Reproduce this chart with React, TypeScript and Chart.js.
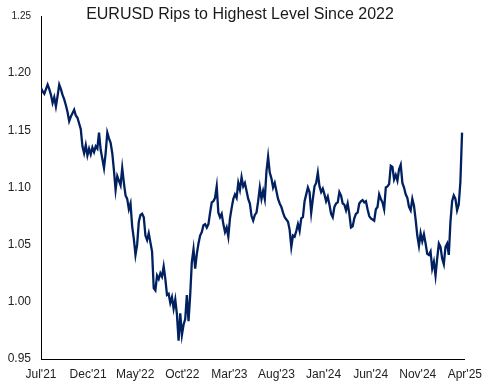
import React, { useEffect, useRef } from "react";
import { Chart, registerables } from "chart.js";

Chart.register(...registerables);

const TITLE = "EURUSD Rips to Highest Level Since 2022";
const xTickLabels = ["Jul'21", "Dec'21", "May'22", "Oct'22", "Mar'23", "Aug'23", "Jan'24", "Jun'24", "Nov'24", "Apr'25"];
const X_MIN_MONTHS = 0;
const X_MAX_MONTHS = 45;
const X_TICK_STEP_MONTHS = 5;
const Y_MIN = 0.95;
const Y_MAX = 1.25;
const Y_STEP = 0.05;
// sampling interval of the series, in months since Jul'21
const SAMPLE_STEP_MONTHS = 0.176;

const rate2021 = [
  1.187, 1.184, 1.182, 1.186, 1.190, 1.186, 1.181, 1.174, 1.179, 1.171,
  1.180, 1.190, 1.186, 1.181, 1.177, 1.172, 1.166, 1.158, 1.162, 1.165,
  1.168, 1.163, 1.161, 1.156, 1.151, 1.136, 1.130, 1.137, 1.128, 1.134,
  1.129, 1.135, 1.131, 1.136, 1.134,
];
const rate2022 = [
  1.148, 1.133, 1.125, 1.117, 1.130, 1.148, 1.143, 1.139, 1.130, 1.115,
  1.098, 1.110, 1.106, 1.102, 1.117, 1.104, 1.093, 1.090, 1.081, 1.086,
  1.066, 1.055, 1.041, 1.050, 1.070, 1.076, 1.077, 1.074, 1.058, 1.054,
  1.060, 1.052, 1.044, 1.012, 1.010, 1.023, 1.020, 1.025, 1.022, 1.031,
  1.020, 1.006, 1.007, 0.999, 1.004, 0.994, 1.002, 0.989, 0.966, 0.990,
  0.971, 0.980, 0.985, 1.006, 0.983, 1.006, 1.035, 1.046, 1.029, 1.042,
  1.051, 1.058, 1.061, 1.067, 1.068, 1.065, 1.068, 1.078,
];
const rate2023 = [
  1.087, 1.088, 1.091, 1.101, 1.078, 1.074, 1.077, 1.068, 1.061, 1.065,
  1.057, 1.073, 1.082, 1.090, 1.094, 1.091, 1.104, 1.098, 1.109, 1.101,
  1.104, 1.097, 1.090, 1.086, 1.075, 1.071, 1.076, 1.078, 1.088, 1.100,
  1.090, 1.097, 1.090, 1.114, 1.127, 1.113, 1.108, 1.100, 1.104, 1.097,
  1.090, 1.086, 1.083, 1.078, 1.074, 1.072, 1.070, 1.063, 1.048, 1.058,
  1.057, 1.062, 1.068, 1.062, 1.073, 1.074, 1.088, 1.094, 1.100, 1.096,
  1.078, 1.090, 1.101, 1.104, 1.113, 1.101, 1.096, 1.099,
];
const rate2024 = [
  1.094, 1.088, 1.092, 1.085, 1.077, 1.074, 1.083, 1.086, 1.087, 1.096,
  1.093, 1.086, 1.085, 1.080, 1.086, 1.077, 1.065, 1.066, 1.073, 1.077,
  1.078, 1.086, 1.088, 1.089, 1.087, 1.088, 1.081, 1.075, 1.073, 1.072,
  1.071, 1.081, 1.083, 1.094, 1.090, 1.087, 1.081, 1.100, 1.101, 1.103,
  1.119, 1.118, 1.107, 1.111, 1.106, 1.116, 1.120, 1.104, 1.100, 1.094,
  1.091, 1.083, 1.080, 1.090, 1.084, 1.072, 1.058, 1.049, 1.060, 1.053,
  1.059, 1.051, 1.042, 1.041, 1.044, 1.029, 1.035, 1.023,
];
const rate2025 = [
  1.038, 1.051, 1.048, 1.038, 1.033, 1.048, 1.051, 1.041, 1.070, 1.088,
  1.093, 1.090, 1.080, 1.085, 1.105, 1.148,
];

const eurusd = [...rate2021, ...rate2022, ...rate2023, ...rate2024, ...rate2025];

const FONT = "'Liberation Sans', Arial, Helvetica, sans-serif";

export default function App() {
  const canvasRef = useRef<HTMLCanvasElement | null>(null);

  useEffect(() => {
    const canvas = canvasRef.current;
    if (!canvas) return;
    const points = eurusd.map((v, i) => ({ x: i * SAMPLE_STEP_MONTHS, y: v }));
    const chart = new Chart(canvas, {
      type: "line",
      data: {
        datasets: [
          {
            label: "EURUSD",
            data: points,
            borderColor: "#002060",
            borderWidth: 2.3,
            pointRadius: 0,
            tension: 0,
            fill: false,
          },
        ],
      },
      options: {
        animation: false,
        responsive: false,
        layout: { padding: { top: 12, right: 23, left: 0, bottom: 0 } },
        plugins: {
          legend: { display: false },
          tooltip: { enabled: false },
          title: { display: false },
        },
        scales: {
          x: {
            type: "linear",
            min: X_MIN_MONTHS,
            max: X_MAX_MONTHS,
            grid: { display: false, drawTicks: false },
            border: { display: true, color: "#000000", width: 1 },
            ticks: {
              stepSize: X_TICK_STEP_MONTHS,
              autoSkip: false,
              maxRotation: 0,
              minRotation: 0,
              padding: 8,
              color: "#222222",
              font: { family: FONT, size: 12 },
              callback: (v: any) => xTickLabels[Math.round(Number(v) / X_TICK_STEP_MONTHS)] ?? "",
            },
            afterFit: (s: any) => {
              s.height = 29;
            },
          },
          y: {
            min: Y_MIN,
            max: Y_MAX,
            grid: { display: false, drawTicks: false },
            border: { display: true, color: "#000000", width: 1 },
            ticks: {
              stepSize: Y_STEP,
              padding: 10,
              color: "#222222",
              font: (ctx: any) => ({
                family: FONT,
                size: ctx.tick && Math.abs(ctx.tick.value - Y_MAX) < 1e-6 ? 10 : 12,
              }),
              callback: (v: any) => Number(v).toFixed(2),
            },
            afterFit: (s: any) => {
              s.width = 41;
            },
          },
        },
      },
    });
    return () => chart.destroy();
  }, []);

  return (
    <div
      style={{
        position: "fixed",
        left: 0,
        top: 0,
        width: 490,
        height: 388,
        background: "#ffffff",
      }}
    >
      <canvas ref={canvasRef} width={490} height={388} style={{ display: "block" }} />
      <div
        style={{
          position: "absolute",
          left: 0,
          top: 4,
          width: 480,
          textAlign: "center",
          fontFamily: FONT,
          fontSize: 16,
          lineHeight: "19px",
          color: "#1a1a1a",
          pointerEvents: "none",
        }}
      >
        {TITLE}
      </div>
    </div>
  );
}
